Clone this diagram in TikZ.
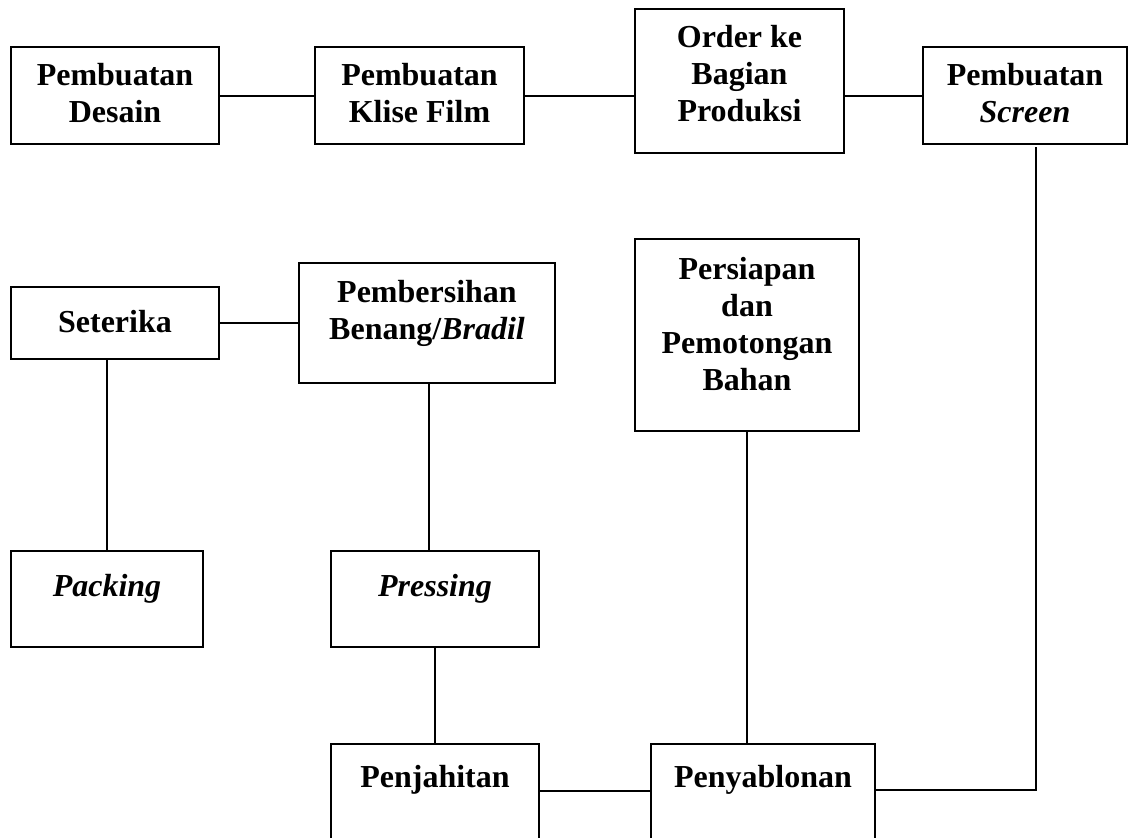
\documentclass[tikz,border=0pt]{standalone}
\usepackage{fontspec}
\setmainfont{Liberation Serif}
\begin{document}
\tikzset{
  box/.style n args={2}{draw, line width=1pt, inner sep=0pt, outer sep=0pt,
    anchor=north west, minimum width=#1, minimum height=#2},
  txt/.style={anchor=north, inner sep=0pt, align=center,
    font=\fontsize{16}{18.5}\selectfont\bfseries,
    execute at begin node=\rule{0pt}{12pt}},
  link/.style={line width=1pt}
}
\begin{tikzpicture}[x=0.5pt,y=-0.5pt]
\useasboundingbox (0,0) rectangle (1128,837);
% boxes
\node[box={104pt}{48.5pt}] (desain) at (11,47) {};
\node[box={104.5pt}{48.5pt}] (klise) at (315,47) {};
\node[box={104.5pt}{72pt}] (order) at (635,9) {};
\node[box={102pt}{48.5pt}] (screen) at (923,47) {};
\node[box={104pt}{36pt}] (seterika) at (11,287) {};
\node[box={128pt}{60pt}] (bersih) at (299,263) {};
\node[box={112pt}{96pt}] (persiapan) at (635,239) {};
\node[box={96pt}{48pt}] (packing) at (11,551) {};
\node[box={104pt}{48pt}] (pressing) at (331,551) {};
\node[box={104pt}{55pt}] (jahit) at (331,744) {};
\node[box={112pt}{55pt}] (sablon) at (651,744) {};
% texts
\node[txt] (desain-t) at (115,63) {Pembuatan\\Desain};
\node[txt] (klise-t) at (419.5,63) {Pembuatan\\Klise Film};
\node[txt] (order-t) at (739.5,25) {Order ke\\Bagian\\Produksi};
\node[txt] (screen-t) at (1025,63) {Pembuatan\\\textit{Screen}};
\node[txt] (seterika-t) at (115,308) {Seterika};
\node[txt] (bersih-t) at (427,280) {Pembersihan\\Benang/\textit{Bradil}};
\node[txt] (persiapan-t) at (747,257) {Persiapan\\dan\\Pemotongan\\Bahan};
\node[txt] (packing-t) at (107,572) {\textit{Packing}};
\node[txt] (pressing-t) at (435,572) {\textit{Pressing}};
\node[txt] (jahit-t) at (435,763) {Penjahitan};
\node[txt] (sablon-t) at (763,763) {Penyablonan};
% connectors
\draw[link] (desain.east) -- (klise.west);
\draw[link] (klise.east) -- (order.west |- klise.east);
\draw[link] (order.east |- screen.west) -- (screen.west);
\draw[link] (seterika.east) -- (bersih.west);
\draw[link] (seterika.south -| packing.north) -- (packing.north);
\draw[link] ([xshift=1pt]bersih.south) -- ([xshift=1pt]bersih.south |- pressing.north);
\draw[link] (pressing.south) -- (pressing.south |- jahit.north);
\draw[link] (persiapan.south) -- (persiapan.south |- sablon.north);
\draw[link] ([yshift=-23.5pt]jahit.north east) -- ([yshift=-23.5pt]jahit.north east -| sablon.west);
\coordinate (bend) at (1036,790);
\draw[link] ([yshift=-1.5pt]screen.south -| bend) -- (bend) -- (bend -| sablon.east);
\end{tikzpicture}
\end{document}
